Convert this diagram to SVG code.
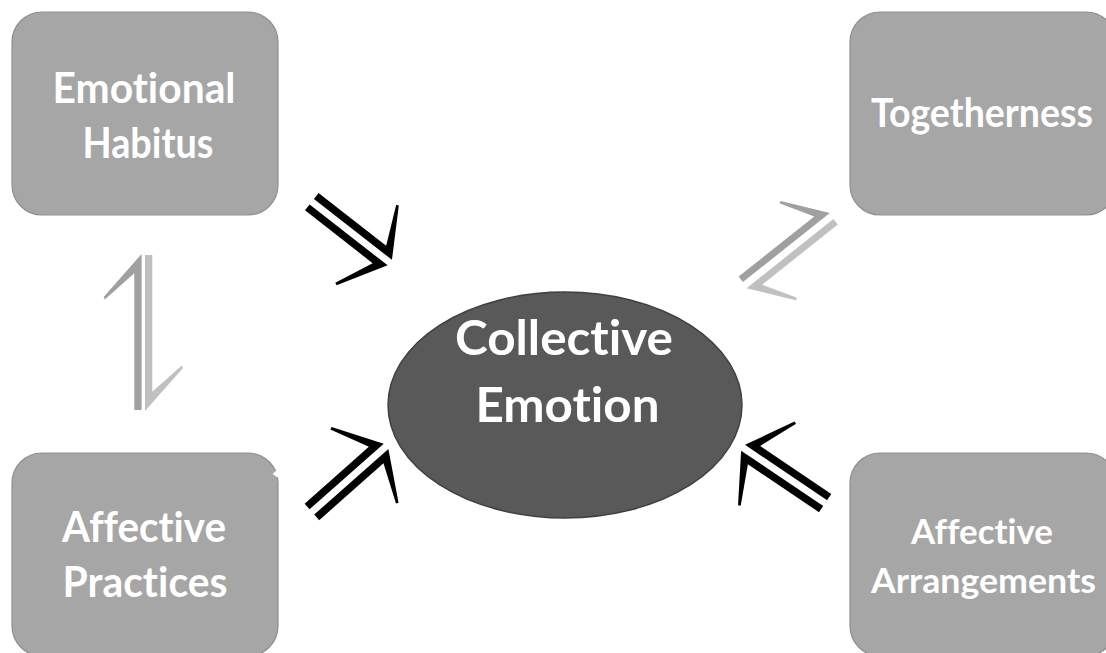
<svg xmlns="http://www.w3.org/2000/svg" xmlns:xlink="http://www.w3.org/1999/xlink" width="1106" height="653" viewBox="0 0 1106 653">
<style>
.box{fill:#a6a6a6;stroke:#8f8f8f;stroke-width:1.2}
.lbl{font-family:Lato,"Open Sans","Liberation Sans",sans-serif;font-weight:bold;fill:#ffffff;text-anchor:middle;font-variant-ligatures:none;font-feature-settings:"liga" 0,"clig" 0}
.blk{fill:#000000}
.gd{fill:#a0a0a0}
.gl{fill:#c0c0c0}
</style>
<defs>
<polygon id="hb" points="-98,-3.5 1,-3.5 -27,-50.5 -29.5,-49.5 -12.2,-11 -98,-11"/>
<g id="barrow">
<use xlink:href="#hb"/>
<use xlink:href="#hb" transform="scale(1,-1)"/>
</g>
<polygon id="hg" points="-110,-3.5 1,-3.5 -30,-43.5 -32.5,-42.5 -13.3,-10.5 -110,-10.5"/>
<polygon id="hv" points="-155,-1.7 1,-1.7 -42,-39.7 -44.5,-38.5 -18.3,-9 -155,-9"/>
</defs>
<rect width="1106" height="653" fill="#ffffff"/>
<g id="emotional-habitus">
<rect class="box" x="12" y="12" width="266" height="203" rx="30" ry="30"/>
<text class="lbl" x="144" y="102.7" font-size="42" textLength="183" lengthAdjust="spacingAndGlyphs">Emotional</text>
<text class="lbl" x="148" y="157.7" font-size="42" textLength="131" lengthAdjust="spacingAndGlyphs">Habitus</text>
</g>
<g id="togetherness">
<rect class="box" x="850" y="12" width="266" height="203" rx="30" ry="30"/>
<text class="lbl" x="982" y="127" font-size="40" textLength="222" lengthAdjust="spacingAndGlyphs">Togetherness</text>
</g>
<g id="affective-practices">
<rect class="box" x="12" y="453" width="266" height="203" rx="30" ry="30"/>
<polygon points="280,467 272.5,474 280,479" fill="#ffffff"/>
<text class="lbl" x="144" y="542" font-size="42" textLength="164" lengthAdjust="spacingAndGlyphs">Affective</text>
<text class="lbl" x="145" y="597" font-size="42" textLength="165" lengthAdjust="spacingAndGlyphs">Practices</text>
</g>
<g id="affective-arrangements">
<rect class="box" x="850" y="453" width="266" height="203" rx="30" ry="30"/>
<text class="lbl" x="982" y="544" font-size="35" textLength="142" lengthAdjust="spacingAndGlyphs">Affective</text>
<text class="lbl" x="983.5" y="593" font-size="35" textLength="225" lengthAdjust="spacingAndGlyphs">Arrangements</text>
</g>
<g id="collective-emotion">
<ellipse cx="565" cy="405" rx="177" ry="113" fill="#595959" stroke="#404040" stroke-width="1.5"/>
<text class="lbl" x="564" y="355" font-size="47" textLength="218" lengthAdjust="spacingAndGlyphs">Collective</text>
<text class="lbl" x="567.5" y="421.7" font-size="47" textLength="184" lengthAdjust="spacingAndGlyphs">Emotion</text>
</g>
<g id="connectors">
<use xlink:href="#barrow" class="blk" transform="translate(389,262) rotate(38)"/>
<use xlink:href="#barrow" class="blk" transform="translate(385.3,447) rotate(-41.5)"/>
<use xlink:href="#barrow" class="blk" transform="translate(743.9,448.3) rotate(-146)"/>
<g transform="translate(787.4,251.2) rotate(-38.5)">
<use xlink:href="#hg" class="gd" transform="translate(56,0)"/>
<use xlink:href="#hg" class="gl" transform="translate(-54,0) rotate(180)"/>
</g>
<use xlink:href="#hv" class="gd" transform="translate(143.3,255) rotate(-90)"/>
<use xlink:href="#hv" class="gl" transform="translate(143.3,410) rotate(90)"/>
</g>
</svg>
